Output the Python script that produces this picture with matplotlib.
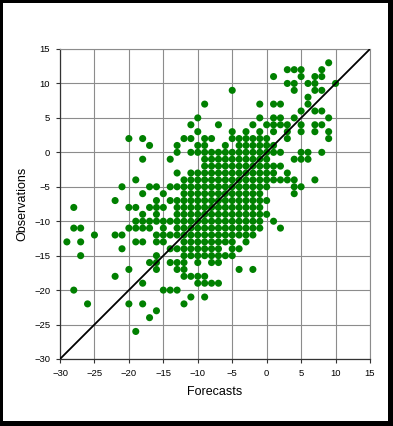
import matplotlib
matplotlib.use("Agg")
import matplotlib.pyplot as plt
from matplotlib.patches import Rectangle

# Observation value of each row of points (top to bottom)
observation_rows = [13, 12, 11, 10, 9, 8, 7, 6, 5, 4, 3, 2, 1, 0, -1, -2, -3, -4, -5, -6,
                    -7, -8, -9, -10, -11, -12, -13, -14, -15, -16, -17, -18, -19, -20,
                    -21, -22, -23, -24, -26]

# Forecast values of the points found in each row
forecast_rows = [
    [9],
    [3, 4, 5, 8],
    [1, 5, 7, 8],
    [3, 4, 6, 7, 10],
    [-5, 4, 7, 8],
    [6],
    [-9, -1, 1, 2, 6],
    [5, 7, 8],
    [-10, -1, 1, 2, 4, 9],
    [-11, -7, -2, 0, 1, 2, 3, 5, 7, 8],
    [-10, -5, -3, -1, 1, 3, 5, 7, 9],
    [-20, -18, -12, -11, -9, -8, -5, -4, -3, -2, -1, 0, 3, 9],
    [-17, -13, -10, -9, -6, -4, -3, -2, -1, 0, 1],
    [-13, -11, -10, -9, -8, -7, -6, -5, -4, -3, -2, -1, 0, 1, 2, 5, 6, 8],
    [-18, -14, -9, -8, -7, -6, -5, -4, -3, -2, -1, 0, 4, 5, 6],
    [-9, -8, -7, -6, -5, -4, -3, -2, -1, 0, 1, 2],
    [-13, -11, -10, -9, -8, -7, -6, -5, -4, -3, -2, -1, 0, 1, 3],
    [-19, -12, -11, -10, -9, -8, -7, -6, -5, -4, -3, -2, -1, 0, 1, 2, 3, 4, 7],
    [-21, -17, -16, -14, -13, -12, -11, -10, -9, -8, -7, -6, -5, -4, -3, -2, -1, 0, 4, 5],
    [-18, -15, -12, -11, -10, -9, -8, -7, -6, -5, -4, -3, -2, -1, 4],
    [-22, -16, -14, -13, -12, -11, -10, -9, -8, -7, -6, -5, -4, -3, -2, -1, 0],
    [-28, -20, -19, -17, -16, -15, -13, -12, -11, -10, -9, -8, -7, -6, -5, -4, -3, -2, -1],
    [-18, -16, -13, -12, -11, -10, -9, -8, -7, -6, -5, -4, -3, -2, -1, 0],
    [-19, -18, -17, -16, -15, -14, -13, -12, -11, -10, -9, -8, -7, -6, -5, -4, -3, -2, -1, 1],
    [-28, -27, -20, -19, -18, -17, -15, -13, -12, -11, -10, -9, -8, -7, -6, -5, -4, -3, -2, -1, 2],
    [-25, -22, -21, -16, -15, -14, -13, -12, -11, -10, -9, -8, -7, -6, -5, -4, -3, -2],
    [-29, -27, -19, -18, -16, -15, -12, -11, -10, -9, -8, -7, -6, -5, -3],
    [-21, -14, -13, -12, -11, -10, -9, -8, -7, -5, -4],
    [-27, -16, -12, -11, -10, -9, -8, -7, -6, -5],
    [-17, -16, -14, -13, -12, -10, -8, -7],
    [-20, -16, -13, -12, -4, -2],
    [-22, -12, -11, -10, -9],
    [-18, -10, -9, -8, -7],
    [-28, -15, -14, -13],
    [-11, -9],
    [-26, -20, -18, -12],
    [-16],
    [-17],
    [-19],
]

axis_ticks = [-30, -25, -20, -15, -10, -5, 0, 5, 10, 15]
line_ends = [-30, 15]

forecasts = []
observations = []
for obs, row in zip(observation_rows, forecast_rows):
    for f in row:
        forecasts.append(f)
        observations.append(obs)

plt.rcParams['font.family'] = ['Liberation Sans', 'DejaVu Sans']

fig = plt.figure(figsize=(3.93, 4.26), dpi=100)
fig.patch.set_facecolor('white')

ax = fig.add_axes([60 / 393, 1 - 359 / 426, 310 / 393, 310 / 426])
ax.set_xlim(-30, 15)
ax.set_ylim(-30, 15)
ax.set_xticks(axis_ticks)
ax.set_yticks(axis_ticks)
ax.grid(True, color='#8c8c8c', linewidth=0.8)
ax.set_axisbelow(True)

ax.scatter(forecasts, observations, s=26, color='#008000', edgecolors='none', zorder=3)
ax.plot(line_ends, line_ends, color='black', linewidth=1.3, zorder=4)

for side in ['top', 'right']:
    ax.spines[side].set_color('#8c8c8c')
    ax.spines[side].set_linewidth(0.8)
for side in ['left', 'bottom']:
    ax.spines[side].set_color('#333333')
    ax.spines[side].set_linewidth(0.9)

ax.tick_params(axis='both', direction='out', length=3, width=0.8, color='#333333',
               labelsize=6.8, pad=4)
ax.set_xlabel('Forecasts', fontsize=9, labelpad=6)
ax.set_ylabel('Observations', fontsize=9, labelpad=4)

# black frame around the picture (thicker on right and bottom)
W, H = 393, 426
frame = [(0, 0, 3 / W, 1), (0, 1 - 3 / H, 1, 3 / H), (1 - 5 / W, 0, 5 / W, 1), (0, 0, 1, 5 / H)]
for (x0, y0, w, h) in frame:
    fig.patches.append(Rectangle((x0, y0), w, h, transform=fig.transFigure,
                                 facecolor='black', edgecolor='none', zorder=10))

fig.savefig('out.png', dpi=100)
